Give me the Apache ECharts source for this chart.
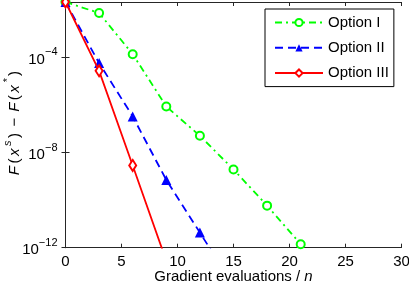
<!DOCTYPE html>
<html>
<head>
<meta charset="utf-8">
<script src="https://cdn.jsdelivr.net/npm/echarts@6/dist/echarts.min.js"></script>
<style>html,body{margin:0;padding:0;background:#fff}#c{width:409px;height:287px}</style>
</head>
<body>
<div id="c"></div>
<script>
// ---- data ----
var seriesNames = ['Option I', 'Option II', 'Option III'];
var xOpt1 = [0, 3, 6, 9, 12, 15, 18, 21];
var yOpt1 = [2.0e-2, 6.9e-3, 1.3e-4, 8.3e-7, 4.9e-8, 1.9e-9, 5.8e-11, 1.4e-12];
var xOpt2 = [0, 3, 6, 9, 12, 15];
var yOpt2 = [2.0e-2, 5.5e-5, 3.2e-7, 6.9e-10, 4.3e-12, 2.5e-14];
var xOpt3 = [0, 3, 6, 9];
var yOpt3 = [2.0e-2, 2.6e-5, 2.8e-9, 2.8e-13];
var xTicks = [0, 5, 10, 15, 20, 25, 30];
var yTickExponents = [-12, -8, -4];
var yMin = 1e-12, yMax = 2.0e-2;

function pairs(xs, ys) { return xs.map(function (x, i) { return [x, ys[i]]; }); }

var FONT = 'Liberation Sans, Arial, Helvetica, sans-serif';
var AX = '#262626';

var chart = echarts.init(document.getElementById('c'), null, { renderer: 'canvas' });

function yLabel(v) {
  var e = Math.log10(v);
  var r = Math.round(e);
  if (Math.abs(e - r) > 0.01 || yTickExponents.indexOf(r) < 0) return '';
  return '{b|10}{s|' + (r < 0 ? '\u2212' + (-r) : r) + '}';
}

var option = {
  animation: false,
  backgroundColor: '#fff',
  textStyle: { fontFamily: FONT },
  grid: { left: 65.5, right: 7.5, top: 2, bottom: 39.3, containLabel: false, outerBoundsMode: 'none' },
  legend: {
    orient: 'vertical',
    left: 265, top: 9,
    data: seriesNames,
    itemWidth: 48, itemHeight: 9, itemGap: 10.3,
    padding: [6, 5, 6, 9],
    borderColor: '#000', borderWidth: 1, backgroundColor: '#fff',
    textStyle: { fontSize: 15, color: '#000', fontFamily: FONT }
  },
  xAxis: [{
    type: 'value', min: 0, max: 30, interval: 5,
    position: 'bottom',
    axisLine: { show: true, lineStyle: { color: AX, width: 1 } },
    axisTick: { show: true, inside: true, length: 4, lineStyle: { color: AX } },
    axisLabel: { fontSize: 15, color: '#000', margin: 7, fontFamily: FONT },
    splitLine: { show: false },
    name: '{a|Gradient evaluations / }{i|n}',
    nameLocation: 'middle', nameGap: 22, nameMoveOverlap: false,
    nameTextStyle: {
      rich: {
        a: { fontSize: 15, color: '#000', fontFamily: FONT },
        i: { fontSize: 15, color: '#000', fontFamily: FONT, fontStyle: 'italic' }
      }
    }
  }, {
    type: 'value', min: 0, max: 30, interval: 5,
    position: 'top',
    axisLine: { show: true, lineStyle: { color: AX, width: 1 } },
    axisTick: { show: true, inside: true, length: 4, lineStyle: { color: AX } },
    axisLabel: { show: false },
    splitLine: { show: false }
  }],
  yAxis: [{
    type: 'log', logBase: 10, min: yMin, max: yMax, interval: 4,
    position: 'left',
    axisLine: { show: true, lineStyle: { color: AX, width: 1 } },
    axisTick: { show: true, inside: true, length: 4, lineStyle: { color: AX } },
    minorTick: { show: false },
    splitLine: { show: false },
    axisLabel: {
      formatter: yLabel, margin: 8, color: '#000',
      rich: {
        b: { fontSize: 15, color: '#000', fontFamily: FONT, verticalAlign: 'bottom', lineHeight: 20 },
        s: { fontSize: 11, color: '#000', fontFamily: FONT, verticalAlign: 'top', lineHeight: 20 }
      }
    },
    name: '{i|F}{a|(}{i|x}{s|s}{a|)}{m|\u2212}{i|F}{a|(}{i|x}{s|*}{a|)}',
    nameLocation: 'middle', nameRotate: 90, nameGap: 43, nameMoveOverlap: false,
    nameTextStyle: {
      padding: [0, 0, 0, 6],
      rich: {
        a: { fontSize: 15, color: '#000', fontFamily: FONT, verticalAlign: 'bottom', lineHeight: 20, padding: [0, 2.5, 0, 0] },
        m: { fontSize: 15, color: '#000', fontFamily: FONT, verticalAlign: 'bottom', lineHeight: 20, padding: [0, 6, 0, 4] },
        i: { fontSize: 15, color: '#000', fontFamily: FONT, fontStyle: 'italic', verticalAlign: 'bottom', lineHeight: 20, padding: [0, 2.5, 0, 0] },
        s: { fontSize: 11, color: '#000', fontFamily: FONT, fontStyle: 'italic', verticalAlign: 'top', lineHeight: 20, padding: [0, 2.5, 0, 0] }
      }
    }
  }, {
    type: 'log', logBase: 10, min: yMin, max: yMax, interval: 4,
    position: 'right',
    axisLine: { show: true, lineStyle: { color: AX, width: 1 } },
    axisTick: { show: true, inside: true, length: 4, lineStyle: { color: AX } },
    minorTick: { show: false },
    splitLine: { show: false },
    axisLabel: { show: false }
  }],
  series: [{
    name: seriesNames[0], type: 'line',
    data: pairs(xOpt1, yOpt1),
    symbol: 'emptyCircle', symbolSize: 8,
    lineStyle: { color: '#00ff00', width: 1.8, type: [7, 4, 2, 4] },
    itemStyle: { color: '#00ff00', borderColor: '#00ff00', borderWidth: 1.8 },
    clip: true, z: 3
  }, {
    name: seriesNames[1], type: 'line',
    data: pairs(xOpt2, yOpt2),
    symbol: 'triangle', symbolSize: 10,
    lineStyle: { color: '#0000ff', width: 1.8, type: [8, 5] },
    itemStyle: { color: '#0000ff' },
    clip: true, z: 4
  }, {
    name: seriesNames[2], type: 'line',
    data: pairs(xOpt3, yOpt3),
    symbol: 'emptyDiamond', symbolSize: [7, 11],
    lineStyle: { color: '#ff0000', width: 1.8, type: 'solid' },
    itemStyle: { color: '#ff0000', borderColor: '#ff0000', borderWidth: 1.5 },
    clip: true, z: 5
  }]
};
chart.setOption(option);
</script>
</body>
</html>
